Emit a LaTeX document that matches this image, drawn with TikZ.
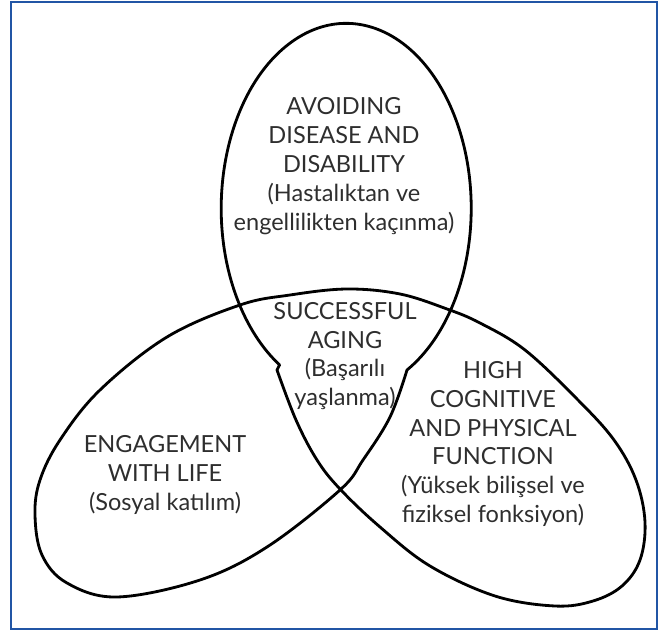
\documentclass[tikz,border=0pt]{standalone}
\usepackage{fontspec}
\setmainfont{Lato}
\definecolor{frameblue}{RGB}{33,85,165}
\begin{document}
\begin{tikzpicture}[x=0.02cm, y=-0.02cm,
  lbl/.style={align=center, text=black!82, font=\fontsize{13.4}{16.4}\selectfont, inner sep=0pt},
  lobe/.style={line width=1.6pt, line join=round}]
  \useasboundingbox (0,0) rectangle (663,632);
  % Frame
  \draw[frameblue, line width=1.3pt] (11,2) rectangle (657,629);
  % Three lobes, drawn as one closed line
  \draw[lobe] (407,370) arc[start angle=60.9, end angle=-237.8, x radius=125, y radius=185]
    -- plot[smooth, tension=0.6] coordinates {
      (277,370) (296,420) (317,460) (340,489) (380,527) (430,566) (495,596)
      (555,606) (593,601) (622,586) (640,560) (645,522) (636,480) (614,440)
      (578,400) (525,350) (480,323) (447,309) (400,294) (347,289) (290,295)
      (240,305) (167,337) (100,390) (60,440) (40,480) (35,515) (42,555)
      (67,583) (117,597) (200,580) (267,547) (340,490) (363,460) (390,417)
      (407,370)}
    -- cycle;
  % Labels
  \node[lbl] (avoid) at (344,166) {AVOIDING\\DISEASE AND\\DISABILITY\\(Hastalıktan ve\\engellilikten kaçınma)};
  \node[lbl] (aging) at (345,356) {SUCCESSFUL\\AGING\\(Başarılı\\yaşlanma)};
  \node[lbl] (engage) at (165,475) {ENGAGEMENT\\WITH LIFE\\(Sosyal katılım)};
  \node[lbl] (func) at (493,444) {HIGH\\COGNITIVE\\AND PHYSICAL\\FUNCTION\\(Yüksek bilişsel ve\\fiziksel fonksiyon)};
\end{tikzpicture}
\end{document}
